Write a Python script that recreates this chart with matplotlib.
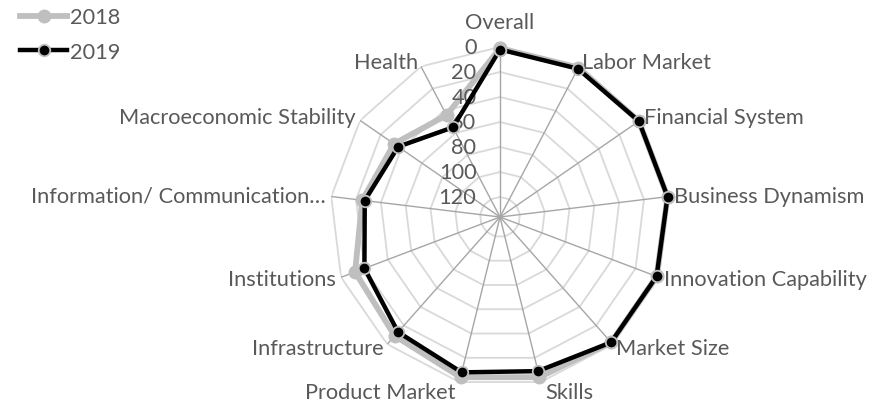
import matplotlib.pyplot as plt
import numpy as np

categories = ["Overall", "Labor Market", "Financial System", "Business Dynamism",
              "Innovation Capability", "Market Size", "Skills", "Product Market",
              "Infrastructure", "Institutions", "Information/ Communication\u2026",
              "Macroeconomic Stability", "Health"]
rank_2018 = [1, 1, 1, 1, 2, 2, 4, 4, 9, 12, 25, 33, 44]
rank_2019 = [2, 2, 1, 1, 2, 2, 9, 8, 13, 20, 27, 37, 55]
r_ticks = [0, 20, 40, 60, 80, 100, 120]
r_center = 136

plt.rcParams['font.family'] = ['Lato', 'DejaVu Sans']
txt = '#595959'
fs = 15.7

fig = plt.figure(figsize=(8.76, 4.02), dpi=100)
ax = fig.add_axes([330 / 876, 14 / 402, 340 / 876, 340 / 402], projection='polar')
ax.set_theta_offset(np.pi / 2)
ax.set_theta_direction(-1)
ax.set_ylim(r_center, 0)
ax.grid(False)
ax.spines['polar'].set_visible(False)
ax.set_xticks([])
ax.set_yticks([])

n = len(categories)
theta = np.arange(n) * 2 * np.pi / n
th_closed = np.append(theta, theta[0])

# polygon gridlines + spokes, excel style
for v in r_ticks:
    ax.plot(th_closed, [v] * (n + 1), color='#d9d9d9', lw=1.3, zorder=1)
for t in theta:
    ax.plot([t, t], [r_center, 0], color='#a6a6a6', lw=1.0, zorder=1.5)

ax.plot(th_closed, rank_2018 + rank_2018[:1], color='#bfbfbf', lw=4.2, marker='o',
        ms=9, mfc='#bfbfbf', mec='#bfbfbf', label='2018', zorder=3, clip_on=False)
ax.plot(th_closed, rank_2019 + rank_2019[:1], color='black', lw=3.2, marker='o',
        ms=8.3, mfc='black', mec='#bfbfbf', mew=1.3, label='2019', zorder=4, clip_on=False)

for t, name in zip(theta, categories):
    s, c = np.sin(t), np.cos(t)
    ha = 'left' if s > 0.1 else ('right' if s < -0.1 else 'center')
    if c > 0.95:
        va, dx, dy = 'bottom', 0, 11
    elif c < -0.95:
        va, dx, dy = 'center', 3 * np.sign(s), -7
    else:
        va, dx, dy = 'center', 4 * s, 4 * c
    ax.annotate(name, xy=(t, 0), xytext=(dx, dy), textcoords='offset points',
                ha=ha, va=va, fontsize=fs, color=txt, annotation_clip=False)

for v in r_ticks:
    ax.annotate(str(v), xy=(0, v), xytext=(-17, 0), textcoords='offset points',
                ha='right', va='center', fontsize=fs, color=txt, annotation_clip=False)

fig.legend(loc='upper left', bbox_to_anchor=(0.008, 1.012), frameon=False, fontsize=fs,
           handlelength=2.15, handletextpad=0.12, labelspacing=0.68, labelcolor=txt,
           borderaxespad=0.2)

fig.savefig('out.png', dpi=100)
